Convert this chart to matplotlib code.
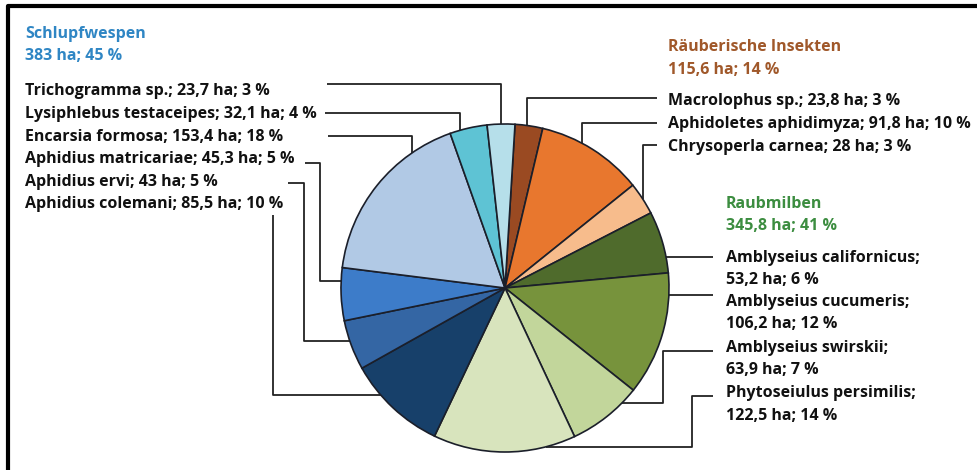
import matplotlib.pyplot as plt
import numpy as np

# slices, clockwise from the top
names = ["Macrolophus sp.", "Aphidoletes aphidimyza", "Chrysoperla carnea",
         "Amblyseius californicus", "Amblyseius cucumeris", "Amblyseius swirskii",
         "Phytoseiulus persimilis", "Aphidius colemani", "Aphidius ervi",
         "Aphidius matricariae", "Encarsia formosa", "Lysiphlebus testaceipes",
         "Trichogramma sp."]
hectares = [23.8, 91.8, 28, 53.2, 106.2, 63.9, 122.5, 85.5, 43, 45.3, 153.4, 32.1, 23.7]
percent = [3, 10, 3, 6, 12, 7, 14, 10, 5, 5, 18, 4, 3]
colors = ["#9a4a22", "#e8772e", "#f7bc8c", "#4f6b2c", "#77933c", "#c2d69b",
          "#d8e4bd", "#17406a", "#3466a4", "#3d7cc9", "#b1c9e5", "#5ec3d4", "#b6dfea"]

groups = ["Schlupfwespen", "Räuberische Insekten", "Raubmilben"]
group_ha = [383, 115.6, 345.8]
group_pct = [45, 14, 41]
group_colors = ["#2f86c4", "#a0582a", "#3c8d40"]


def fmt(v):
    return str(int(v)) if float(v).is_integer() else str(v).replace(".", ",")


W, H = 977, 470
fig = plt.figure(figsize=(W / 100, H / 100), dpi=100)
ax = fig.add_axes([0, 0, 1, 1])

cx, cy, r = 505, 288, 164
wedges, _ = ax.pie(hectares, colors=colors, startangle=-86.5, counterclock=True,
                   center=(cx, cy), radius=r,
                   wedgeprops=dict(edgecolor="#1b1f2a", linewidth=1.2))
ax.set_xlim(0, W)
ax.set_ylim(H, 0)
ax.set_aspect("equal")
ax.axis("off")

# label layout: text x, baseline y, leader start, route, elbow x, anchor fraction
lay = {
    "Trichogramma sp.":        (25, 95, 327, 84, "hv", None, 0.5),
    "Lysiphlebus testaceipes": (25, 118, 325, 113, "hv", None, 0.27),
    "Encarsia formosa":        (25, 141, 328, 136, "hv", None, 0.76),
    "Aphidius matricariae":    (25, 163, 305, 163, "hvh", 320, 0.74),
    "Aphidius ervi":           (25, 186, 288, 183, "hvh", 304, 0.58),
    "Aphidius colemani":       (25, 208, 273, 215, "vh", None, 0.67),
    "Macrolophus sp.":         (668, 105, 657, 98, "hv", None, 0.43),
    "Aphidoletes aphidimyza":  (668, 128, 657, 123, "hv", None, 0.39),
    "Chrysoperla carnea":      (668, 151, 657, 145, "hv", None, 0.53),
    "Amblyseius californicus": (726, 262, 713, 259, "h", None, 0.74),
    "Amblyseius cucumeris":    (726, 306, 713, 297, "h", None, 0.18),
    "Amblyseius swirskii":     (726, 352, 713, 351, "hvh", 663, 0.22),
    "Phytoseiulus persimilis": (726, 397, 713, 396, "hvh", 692, 0.21),
}

font = dict(family="Open Sans", weight="bold", fontsize=11.5)
lc = "#222222"

for w, name, ha_, pc in zip(wedges, names, hectares, percent):
    tx, ty, sx, sy, kind, ex, f = lay[name]
    a = np.deg2rad(w.theta1 + f * (w.theta2 - w.theta1))
    px, py = cx + r * np.cos(a), cy + r * np.sin(a)
    if kind == "hv":
        pts = [(sx, sy), (px, sy), (px, py)]
    elif kind == "hvh":
        pts = [(sx, sy), (ex, sy), (ex, py), (px, py)]
    elif kind == "vh":
        pts = [(sx, sy), (sx, py), (px, py)]
    else:
        pts = [(sx, py), (px, py)]
    xs, ys = zip(*pts)
    ax.plot(xs, ys, color=lc, lw=1.3, solid_capstyle="butt", zorder=0)
    if tx > 700:
        ax.text(tx, ty, f"{name};", color="#111111", va="baseline", **font)
        ax.text(tx, ty + 22.5, f"{fmt(ha_)} ha; {pc} %", color="#111111", va="baseline", **font)
    else:
        ax.text(tx, ty, f"{name}; {fmt(ha_)} ha; {pc} %", color="#111111", va="baseline", **font)

head_pos = [(25, 38), (668, 51), (726, 208)]
for g, gh, gp, gc, (hx, hy) in zip(groups, group_ha, group_pct, group_colors, head_pos):
    ax.text(hx, hy, g, color=gc, va="baseline", **font)
    ax.text(hx, hy + 22.5, f"{fmt(gh)} ha; {gp} %", color=gc, va="baseline", **font)

# frame
ax.plot([8, 8, W + 5], [H + 5, 6, 6], color="black", lw=3, clip_on=False)

fig.savefig("out.png", dpi=100)
